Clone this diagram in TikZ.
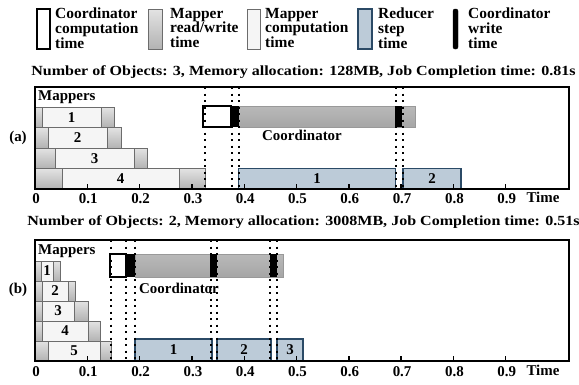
\documentclass[tikz,border=0pt]{standalone}
\usepackage{fontspec}
\setmainfont{Liberation Serif}
\usetikzlibrary{positioning}

\begin{document}
\begin{tikzpicture}
		[x=1bp,y=-1bp,line join=miter,
		%Styles
		every node/.style={font=\bfseries\fontsize{15}{15}\selectfont,inner sep=0pt},
		frame/.style={line width=1.6bp},
		tick/.style={line width=1.4bp},
		coord comp/.style={draw=black,fill=white,line width=1.4bp},
		coord write/.style={fill=black},
		coord bar/.style={draw=gray!80,top color=gray!55,bottom color=gray!70,line width=1bp},
		mapper rw/.style={draw=gray!85!black,top color=gray!22,bottom color=gray!60,line width=1bp},
		mapper comp/.style={draw=gray!85!black,fill=gray!8,line width=1bp},
		reducer/.style={draw=reducerline,fill=reducerfill,line width=1.2bp},
		sync/.style={line width=2bp,dash pattern=on 2bp off 4.5bp},
		legend text/.style={anchor=west,align=left,font=\bfseries\fontsize{15.5}{15}\selectfont},
		title text/.style={font=\bfseries\fontsize{14}{14}\selectfont,xscale=1.15},
		tick label/.style={font=\bfseries\fontsize{15}{15}\selectfont}
		]
		
		%Colors
		\definecolor{reducerfill}{RGB}{188,203,216}	%reducer step boxes
		\definecolor{reducerline}{RGB}{43,74,102}
		
		\useasboundingbox (0,0) rectangle (579,384);
		
		%Legend
		\draw[coord comp] (37,9) rectangle (50,49);
		\node[legend text] (lcomp) at (55,28) {Coordinator\\computation\\time};
		\draw[mapper rw] (148,9) rectangle (162,49);
		\node[legend text] (lrw) at (170,28) {Mapper\\read/write\\time};
		\draw[mapper comp] (247,9) rectangle (260,49);
		\node[legend text] (lmcomp) at (265,28) {Mapper\\computation\\time};
		\draw[reducer] (358,9) rectangle (372,49);
		\node[legend text] (lred) at (378,28) {Reducer\\step\\time};
		\draw[coord write,rounded corners=2bp] (453,9) rectangle (458,49);
		\node[legend text] (lwrite) at (468,28) {Coordinator\\write\\time};
		
		%Panel (a)
		\node[title text] (titleA) at (303.5,72) {Number of Objects: 3, Memory allocation: 128MB, Job Completion time: 0.81s};
		\node (labelA) at (18,138) {(a)};
		\node[anchor=west] (mappersA) at (38,97) {Mappers};
		\foreach \top/\b/\c/\d/\n in {107/42/101/114/1, 127.5/48/107/121/2, 148/55/134/147/3, 168.5/62/179/205/4}
		{
			\draw[mapper rw] (35,\top) rectangle (\b,\top+20.5);
			\draw[mapper comp] (\b,\top) rectangle (\c,\top+20.5);
			\draw[mapper rw] (\c,\top) rectangle (\d,\top+20.5);
			\node (mA\n) at ({(\b+\c)/2},\top+10.5) {\n};
		}
		\draw[coord bar] (238.5,106) rectangle (415,127);
		\draw[coord comp] (203,106) rectangle (231,127);
		\fill[coord write] (231,106) rectangle (238.5,127);
		\fill[coord write] (395,106) rectangle (402,127);
		\node (coordA) at (302,135) {Coordinator};
		\draw[reducer] (238.5,168.5) rectangle (395.5,189);
		\node (rA1) at (317,179) {1};
		\draw[reducer] (403,168.5) rectangle (461,189);
		\node (rA2) at (432,179) {2};
		\foreach \x in {205,231.5,238.5,396,403}
			\draw[sync] (\x,87) -- (\x,189);
		\draw[frame] (35,87) rectangle (569,189);
		\foreach \t in {1,...,9}
			\draw[tick] ({35+52.3*\t},189) -- ++(0,-5);
		\foreach \t/\l in {0/0,1/0.1,2/0.2,3/0.3,4/0.4,5/0.5,6/0.6,7/0.7,8/0.8,9/0.9}
			\node[tick label] (tA\t) at ({36+52.3*\t},199) {\l};
		\node[tick label] (timeA) at (543,197) {Time};
		
		%Panel (b)
		\node[title text] (titleB) at (303.5,222) {Number of Objects: 2, Memory allocation: 3008MB, Job Completion time: 0.51s};
		\node (labelB) at (18,290) {(b)};
		\node[anchor=west] (mappersB) at (38,251) {Mappers};
		\foreach \top/\b/\c/\d/\n in {261/41/53/60/1, 281/42/68/75/2, 301/42/74/88/3, 321/42/88/100/4, 341/48/100/111/5}
		{
			\draw[mapper rw] (35,\top) rectangle (\b,\top+20);
			\draw[mapper comp] (\b,\top) rectangle (\c,\top+20);
			\draw[mapper rw] (\c,\top) rectangle (\d,\top+20);
			\node (mB\n) at ({(\b+\c)/2},\top+10) {\n};
		}
		\draw[coord bar] (135,254) rectangle (283,277);
		\draw[coord comp] (110,254) rectangle (126,277);
		\fill[coord write] (126,254) rectangle (135,277);
		\fill[coord write] (210,254) rectangle (217,277);
		\fill[coord write] (270,254) rectangle (277,277);
		\node (coordB) at (179,288) {Coordinator};
		\draw[reducer] (135,339) rectangle (212,361);
		\node (rB1) at (173.5,350) {1};
		\draw[reducer] (217,339) rectangle (271,361);
		\node (rB2) at (244,350) {2};
		\draw[reducer] (277,339) rectangle (303,361);
		\node (rB3) at (290,350) {3};
		\foreach \x in {110.5,126,135,211,217,270,276.5}
			\draw[sync] (\x,240) -- (\x,361);
		\draw[frame] (35,240) rectangle (569,361);
		\foreach \t in {1,...,9}
			\draw[tick] ({35+52.3*\t},361) -- ++(0,-5);
		\foreach \t/\l in {0/0,1/0.1,2/0.2,3/0.3,4/0.4,5/0.5,6/0.6,7/0.7,8/0.8,9/0.9}
			\node[tick label] (tB\t) at ({36+52.3*\t},372) {\l};
		\node[tick label] (timeB) at (543,370) {Time};
	\end{tikzpicture}
\end{document}
